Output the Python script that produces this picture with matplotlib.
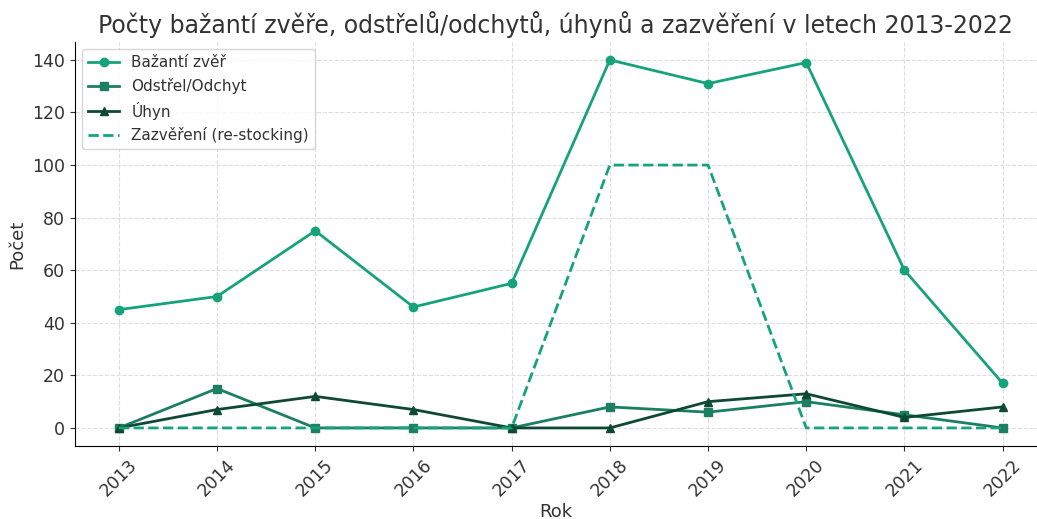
import matplotlib
matplotlib.use("Agg")
import matplotlib.pyplot as plt

roky = [2013, 2014, 2015, 2016, 2017, 2018, 2019, 2020, 2021, 2022]
bazanti = [45, 50, 75, 46, 55, 140, 131, 139, 60, 17]
odstrel = [0, 15, 0, 0, 0, 8, 6, 10, 5, 0]
uhyn = [0, 7, 12, 7, 0, 0, 10, 13, 4, 8]
zazvereni = [0, 0, 0, 0, 0, 100, 100, 0, 0, 0]

plt.rcParams['text.color'] = '#333333'
plt.rcParams['axes.labelcolor'] = '#333333'
plt.rcParams['xtick.color'] = '#333333'
plt.rcParams['ytick.color'] = '#333333'

fig, ax = plt.subplots(figsize=(10.37, 5.19), dpi=100)

ax.plot(roky, bazanti, marker='o', color='#16a37b', lw=2, ms=6, label='Bažantí zvěř')
ax.plot(roky, odstrel, marker='s', color='#1b7f60', lw=2, ms=6, label='Odstřel/Odchyt')
ax.plot(roky, uhyn, marker='^', color='#0e4a33', lw=2, ms=6, label='Úhyn')
ax.plot(roky, zazvereni, ls='--', color='#16a37b', lw=2, label='Zazvěření (re-stocking)')

ax.set_title('Počty bažantí zvěře, odstřelů/odchytů, úhynů a zazvěření v letech 2013-2022',
             fontsize=17)
ax.set_xlabel('Rok', fontsize=13, labelpad=2)
ax.set_ylabel('Počet', fontsize=13)
ax.set_xticks(roky)
ax.set_xticklabels([str(r) for r in roky], rotation=45, fontsize=12.5)
ax.tick_params(axis='y', labelsize=12.5)
ax.set_ylim(-7, 147)
ax.set_xlim(2012.55, 2022.35)
ax.grid(True, ls='--', color='#dddddd', lw=0.8)
ax.spines['top'].set_visible(False)
ax.spines['right'].set_visible(False)
ax.legend(loc='upper left', fontsize=11)

fig.subplots_adjust(left=0.072, right=1.0, top=0.92, bottom=0.14)
fig.savefig('out.png')
